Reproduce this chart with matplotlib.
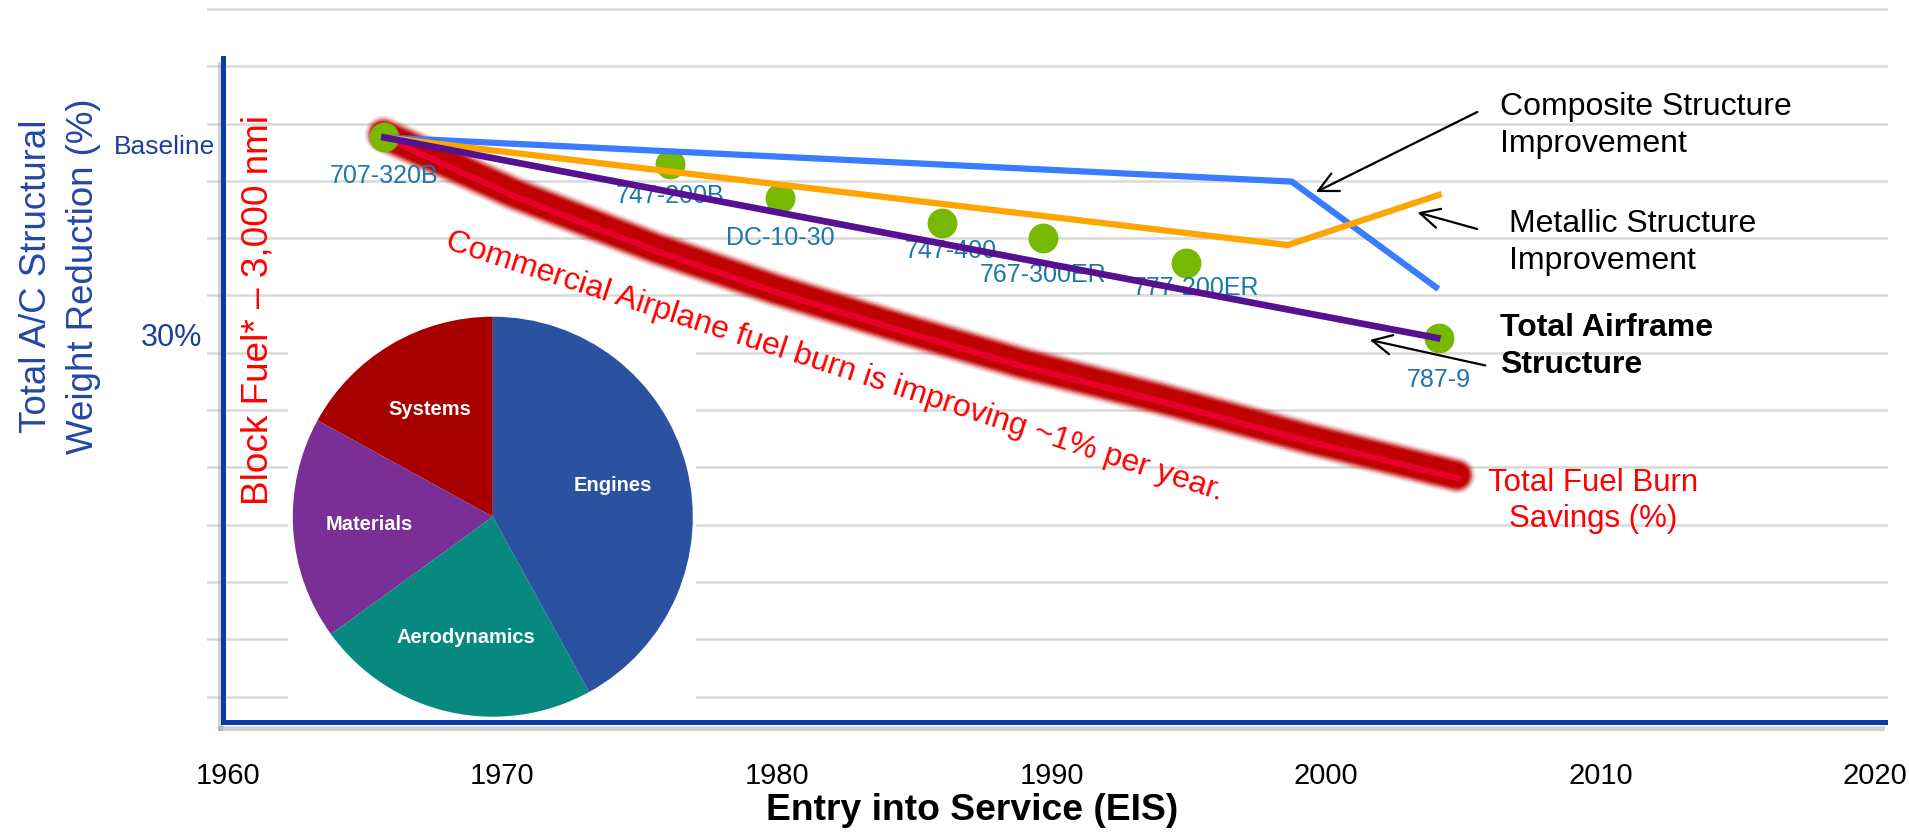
import numpy as np
import matplotlib
matplotlib.use('Agg')
import matplotlib.pyplot as plt
import matplotlib.patheffects as pe
from matplotlib.patches import Rectangle
from matplotlib.transforms import blended_transform_factory, offset_copy

plt.rcParams['font.family'] = ['Liberation Sans', 'DejaVu Sans']

# aircraft: entry into service vs structural weight reduction (%)
aircraft = ['707-320B', '747-200B', 'DC-10-30', '747-400', '767-300ER', '777-200ER', '787-9']
eis_year = [1965.7, 1976.1, 1980.1, 1986.0, 1989.7, 1994.9, 2004.1]
weight_red = [0.0, 3.9, 9.1, 12.8, 15.1, 18.8, 30.0]

# trend lines
composite_year = [1965.7, 1998.75, 2004.0]
composite_red = [0.0, 6.6, 22.4]
metallic_year = [1965.7, 1998.6, 2004.1]
metallic_red = [0.0, 16.1, 8.6]
total_year = [1965.7, 2004.05]
total_red = [0.0, 30.0]
fuel_year = [1965.7, 1970.5, 1975.6, 1980.0, 1984.5, 1989.0, 1993.9, 1999.3, 2004.8]
fuel_red = [0.0, 8.9, 17.0, 23.2, 28.9, 34.3, 39.4, 45.4, 51.0]

# pie of fuel burn contributors
pie_labels = ['Systems', 'Materials', 'Aerodynamics', 'Engines']
pie_share = [17, 18, 23, 42]
pie_colors = ['#a80000', '#7a2f97', '#07897f', '#2b52a0']

xticks = [1960, 1970, 1980, 1990, 2000, 2010, 2020]
axis_text = ['Baseline', '30%']
axis_text_val = [0, 30]

# label offsets in pixels (layout only)
label_off = [(0, -39), (0, -32), (1, -40), (9, -28), (0, -37), (10, -25), (0, -42)]

W, H = 1909, 834
fig = plt.figure(figsize=(W / 100, H / 100), dpi=100)
ax = fig.add_axes([207 / W, (H - 722) / H, (1888 - 207) / W, 722 / H])
ax.set_xlim(1959.235, 2020.47)
ax.set_ylim(87.46, -20.57)

# gridlines
ax.set_yticks(np.arange(13) * 8.574 - 19.23)
ax.tick_params(axis='y', length=0, labelleft=False)
ax.grid(axis='y', color='#d9d9d9', lw=1.8)
ax.set_axisbelow(True)
ax.set_xticks(xticks)
ax.tick_params(axis='x', length=0, pad=29, labelsize=21)

blue_axis = '#0a3ca5'
for s in ['top', 'right']:
    ax.spines[s].set_visible(False)
ax.spines['left'].set_position(('data', 1959.82))
ax.spines['left'].set_bounds(87.46, -11.9)
ax.spines['bottom'].set_bounds(1959.82, 2020.36)
for s in ['left', 'bottom']:
    ax.spines[s].set_color(blue_axis)
    ax.spines[s].set_linewidth(3.6)
    ax.spines[s].set_path_effects([pe.SimpleLineShadow(offset=(-2, -4), shadow_color='gray', alpha=0.35),
                                   pe.Normal()])

# white box behind pie
ax.add_patch(Rectangle((288 / W, (H - 720) / H), 408 / W, (720 - 320) / H,
                       transform=fig.transFigure, facecolor='white', edgecolor='none', zorder=1))

# fuel burn glow line (glow sits a little up-left of the core)
glow_tr = offset_copy(ax.transData, fig=fig, x=-1, y=3, units='dots')
for lw, a in [(27, 0.12), (24.5, 0.22), (22, 0.4), (19.5, 0.65), (17, 0.95)]:
    ax.plot(fuel_year, fuel_red, color='#c00000', lw=lw, alpha=a, transform=glow_tr,
            solid_capstyle='round', solid_joinstyle='round', zorder=2)
ax.plot(fuel_year, fuel_red, color='#e8002d', lw=4.5, solid_capstyle='round',
        solid_joinstyle='round', zorder=2.1)

ax.plot(eis_year, weight_red, 'o', color='#76b900', ms=21.5, mec='none', zorder=3)
for name, x, y, off in zip(aircraft, eis_year, weight_red, label_off):
    ax.annotate(name, (x, y), xytext=off, textcoords='offset pixels', ha='center', va='center',
                fontsize=18, color='#1b78a8', zorder=3.5)

ax.plot(composite_year, composite_red, color='#3a7cff', lw=4.5, zorder=4)
ax.plot(metallic_year, metallic_red, color='#ffa500', lw=4.5, zorder=4)
ax.plot(total_year, total_red, color='#561191', lw=4.8, zorder=4.2)

ax.text(1982.1, 34.3, 'Commercial Airplane fuel burn is improving ~1% per year.', rotation=-18,
        rotation_mode='anchor', ha='center', va='center', color='#ff0000', fontsize=23, zorder=5)

arrow = dict(arrowstyle='->,head_length=0.7,head_width=0.35', lw=1.6, color='black', mutation_scale=20)
ax.annotate('', xy=(1999.54, 8.35), xytext=(2005.6, -4.0), arrowprops=arrow)
ax.annotate('', xy=(2003.23, 11.1), xytext=(2005.6, 13.8), arrowprops=arrow)
ax.annotate('', xy=(2001.49, 30.2), xytext=(2005.9, 34.2), arrowprops=arrow)

ax.text(2006.34, -1.8, 'Composite Structure\nImprovement', ha='left', va='center', fontsize=23, linespacing=1.3)
ax.text(2006.65, 15.76, 'Metallic Structure\nImprovement', ha='left', va='center', fontsize=23, linespacing=1.3)
ax.text(2006.34, 31.33, 'Total Airframe\nStructure', ha='left', va='center', fontsize=23,
        fontweight='bold', linespacing=1.3)
ax.text(2009.73, 54.4, 'Total Fuel Burn\nSavings (%)', ha='center', va='center', color='#ff0000',
        fontsize=22.5, linespacing=1.3, ma='center')

trans = blended_transform_factory(fig.transFigure, ax.transData)
for txt, v, xr, dy, fs in zip(axis_text, axis_text_val, [215.5, 202], [-9.5, 0], [19, 22]):
    ax.annotate(txt, (xr / W, v), xycoords=trans, xytext=(0, dy), textcoords='offset pixels',
                ha='right', va='center', fontsize=fs, color='#1c3f9c')

fig.text(60 / W, 1 - 276 / H, 'Total A/C Structural\nWeight Reduction (%)', rotation=90,
         ha='center', va='center', fontsize=26.4, color='#2446a6', linespacing=1.45)
fig.text(258 / W, 1 - 310 / H, 'Block Fuel* \u2013 3,000 nmi', rotation=90, ha='center', va='center',
         fontsize=26.6, color='#ff0000')
fig.text(972 / W, 1 - 811 / H, 'Entry into Service (EIS)', ha='center', va='center',
         fontsize=26.8, fontweight='bold')

# pie inset
axp = fig.add_axes([(492.8 - 200) / W, (H - 516.7 - 200) / H, 400 / W, 400 / H])
wedges, texts = axp.pie(pie_share, colors=pie_colors, startangle=90, counterclock=True,
                        labels=pie_labels, labeldistance=0.62,
                        textprops=dict(color='white', fontweight='bold', fontsize=14.5))
for t in texts:
    t.set_ha('center')
    t.set_va('center')
axp.set_xlim(-1, 1)
axp.set_ylim(-1, 1)
axp.axis('off')

fig.savefig('out.png', dpi=100)
